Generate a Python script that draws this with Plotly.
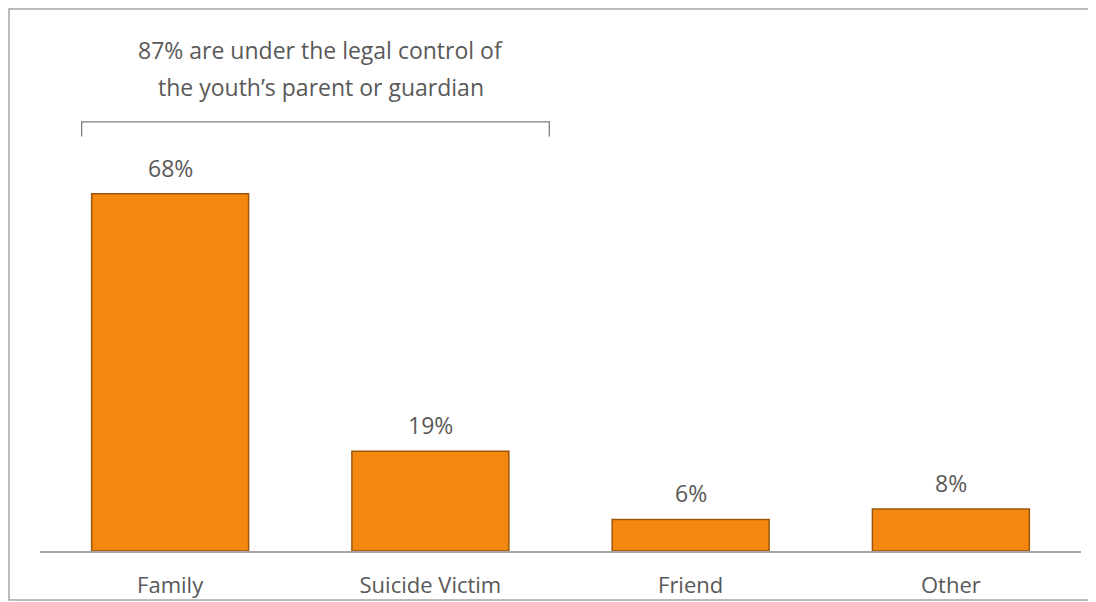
import plotly.graph_objects as go

categories = ['Family', 'Suicide Victim', 'Friend', 'Other']
percents = [68, 19, 6, 8]
labels = ['68%', '19%', '6%', '8%']
note_lines = ['87% are under the legal control of', 'the youth\u2019s parent or guardian']

font_name = 'Open Sans, sans-serif'
gray_text = '#595959'
orange = '#F4880F'

bar_data = go.Bar(x=categories, y=percents, width=0.603,
                  marker=dict(color=orange, line=dict(color='#9C560B', width=1.5)),
                  hoverinfo='skip')

fig = go.Figure(data=bar_data)

# value labels above each bar
for c, v, t in zip(categories, percents, labels):
    fig.add_annotation(x=c, y=v, text=t, showarrow=False, yshift=26,
                       font=dict(size=23, color=gray_text, family=font_name))

# bracket over Family + Suicide Victim
fig.add_shape(type='path', xref='x', yref='y',
              path='M -0.34,78.9 L -0.34,81.7 L 1.457,81.7 L 1.457,78.9',
              line=dict(color='#7F7F7F', width=1.3))
for yy, line in zip([95.4, 88.4], note_lines):
    fig.add_annotation(x=0.578, y=yy, xref='x', yref='y', text=line, showarrow=False,
                       font=dict(size=23, color=gray_text, family=font_name))

# chart frame (top edge kept just inside the figure, right edge pushed off page)
fig.add_shape(type='rect', xref='paper', yref='paper',
              x0=-0.0298, x1=1.2, y0=-0.0923, y1=1.0205,
              line=dict(color='#A6A6A6', width=1.5), layer='below')

# page body has an 8px margin, so the figure is 8px smaller than the window
fig.update_layout(
    width=1088, height=594,
    margin=dict(l=32, r=15, t=12, b=51),
    paper_bgcolor='white', plot_bgcolor='white',
    showlegend=False,
    font=dict(family=font_name, color=gray_text),
    xaxis=dict(showline=True, linecolor='#A6A6A6', linewidth=1.5, showgrid=False,
               automargin=False,
               ticks='outside', ticklen=14, tickcolor='rgba(0,0,0,0)',
               tickfont=dict(size=22, color=gray_text, family=font_name)),
    yaxis=dict(range=[0, 101.1], visible=False, showgrid=False, automargin=False),
)

fig.write_html('out.html')
